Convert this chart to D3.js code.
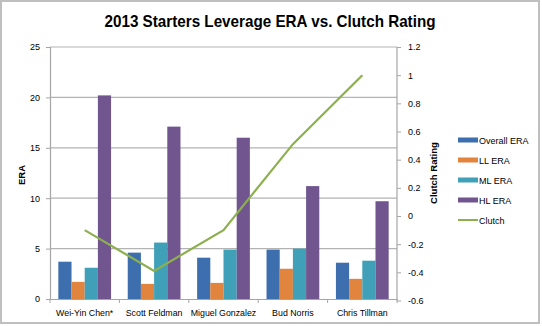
<!DOCTYPE html>
<html>
<head>
<meta charset="utf-8">
<script src="https://cdn.jsdelivr.net/npm/d3@7"></script>
<style>
  body { margin: 0; background: #fff; }
  text { font-family: "Liberation Sans", Arial, sans-serif; fill: #000; }
</style>
</head>
<body>
<div id="wrap"></div>
<script>
var w = 542;
var h = 326;

// data
var pitchers = ["Wei-Yin Chen*", "Scott Feldman", "Miguel Gonzalez", "Bud Norris", "Chris Tillman"];
var overallEra = [3.7, 4.6, 4.1, 4.9, 3.6];
var llEra = [1.7, 1.5, 1.6, 3.0, 2.0];
var mlEra = [3.1, 5.6, 4.9, 5.0, 3.8];
var hlEra = [20.2, 17.1, 16.0, 11.2, 9.7];
var clutch = [-0.1, -0.39, -0.1, 0.51, 1.0];

var seriesNames = ["Overall ERA", "LL ERA", "ML ERA", "HL ERA"];
var colors = ["#3d6fae", "#e0843e", "#3fa0b8", "#71558f"];
var lineColor = "#8db04f";
var eraTicks = [0, 5, 10, 15, 20, 25];
var clutchTicks = [-0.6, -0.4, -0.2, 0, 0.2, 0.4, 0.6, 0.8, 1, 1.2];

var plotL = 50, plotR = 397, plotT = 47, plotB = 299;

var svg = d3.select("#wrap").append("svg").attr("width", w).attr("height", h);

// outer frame
svg.append("rect").attr("x", 1).attr("y", 1).attr("width", 538).attr("height", 322)
  .attr("fill", "#fff").attr("stroke", "#bfbfbf").attr("stroke-width", 2);

svg.append("text").attr("x", 270).attr("y", 27).attr("text-anchor", "middle")
  .style("font-weight", "bold").style("font-size", "17px")
  .attr("textLength", 331).attr("lengthAdjust", "spacingAndGlyphs")
  .text("2013 Starters Leverage ERA vs. Clutch Rating");

var x0 = d3.scaleBand().domain(pitchers).range([plotL, plotR]).paddingInner(0.24).paddingOuter(0.12);
var x1 = d3.scaleBand().domain(seriesNames).range([0, x0.bandwidth()]);
var y = d3.scaleLinear().domain([0, 25]).range([plotB, plotT]);
var y2 = d3.scaleLinear().domain([-0.6, 1.2]).range([plotB + 1.5, plotT]);

// gridlines
svg.append("g").selectAll("line").data(eraTicks.slice(1)).enter().append("line")
  .attr("x1", plotL).attr("x2", plotR)
  .attr("y1", function(d) { return y(d); }).attr("y2", function(d) { return y(d); })
  .attr("stroke", "#b3b3b3").attr("stroke-width", 1.2);

// bars
var rows = pitchers.map(function(p, i) {
  return { name: p, vals: [overallEra[i], llEra[i], mlEra[i], hlEra[i]] };
});
var groups = svg.append("g").selectAll("g").data(rows).enter().append("g")
  .attr("transform", function(d) { return "translate(" + x0(d.name) + ",0)"; });
groups.selectAll("rect").data(function(d) { return d.vals; }).enter().append("rect")
  .attr("x", function(d, i) { return x1(seriesNames[i]); })
  .attr("y", function(d) { return y(d); })
  .attr("width", x1.bandwidth())
  .attr("height", function(d) { return y(0) - y(d); })
  .attr("fill", function(d, i) { return colors[i]; });

// axes
var axisColor = "#a6a6a6";
var leftAxis = svg.append("g").attr("transform", "translate(" + plotL + ",0)")
  .call(d3.axisLeft(y).tickValues(eraTicks).tickSize(4).tickPadding(6));
var rightAxis = svg.append("g").attr("transform", "translate(" + plotR + ",0)")
  .call(d3.axisRight(y2).tickValues(clutchTicks).tickSize(4).tickPadding(7)
    .tickFormat(function(d) { return String(Math.round(d * 10) / 10); }));
var bottomAxis = svg.append("g").attr("transform", "translate(0," + plotB + ")")
  .call(d3.axisBottom(x0).tickSize(0).tickPadding(11));

// category boundary ticks
svg.append("g").selectAll("line").data(d3.range(pitchers.length + 1)).enter().append("line")
  .attr("x1", function(i) { return plotL + i * x0.step(); })
  .attr("x2", function(i) { return plotL + i * x0.step(); })
  .attr("y1", plotB).attr("y2", plotB + 4)
  .attr("stroke", axisColor);

[leftAxis, rightAxis, bottomAxis].forEach(function(a) {
  a.select(".domain").attr("stroke", axisColor).attr("stroke-width", 1.2);
  a.selectAll(".tick line").attr("stroke", axisColor);
  a.selectAll("text").style("font-size", "9px").attr("fill", "#000");
});
bottomAxis.selectAll("text").style("font-size", "8.8px");
rightAxis.select(".domain").attr("d", "M0," + plotT + "V" + (plotB + 1.5));

// clutch line
var line = d3.line()
  .x(function(d, i) { return x0(pitchers[i]) + x0.bandwidth() / 2; })
  .y(function(d) { return y2(d); });
svg.append("path").datum(clutch).attr("d", line)
  .attr("fill", "none").attr("stroke", lineColor).attr("stroke-width", 2.2);

// axis titles
svg.append("text").attr("transform", "translate(25,175) rotate(-90)")
  .attr("text-anchor", "middle").style("font-weight", "bold").style("font-size", "9.5px").text("ERA");
svg.append("text").attr("transform", "translate(437,173) rotate(-90)")
  .attr("text-anchor", "middle").style("font-weight", "bold").style("font-size", "9.5px").text("Clutch Rating");

// legend
var legendNames = seriesNames.concat(["Clutch"]);
var legendColors = colors.concat([lineColor]);
var lg = svg.append("g").selectAll("g").data(legendNames).enter().append("g")
  .attr("transform", function(d, i) { return "translate(458," + (140 + i * 20) + ")"; });
lg.append("rect").attr("x", 0).attr("width", 20)
  .attr("y", function(d, i) { return i < 4 ? -2.5 : -1; })
  .attr("height", function(d, i) { return i < 4 ? 5 : 2; })
  .attr("fill", function(d, i) { return legendColors[i]; });
lg.append("text").attr("x", 21).attr("y", 3.5).style("font-size", "9px")
  .text(function(d) { return d; });
</script>
</body>
</html>
